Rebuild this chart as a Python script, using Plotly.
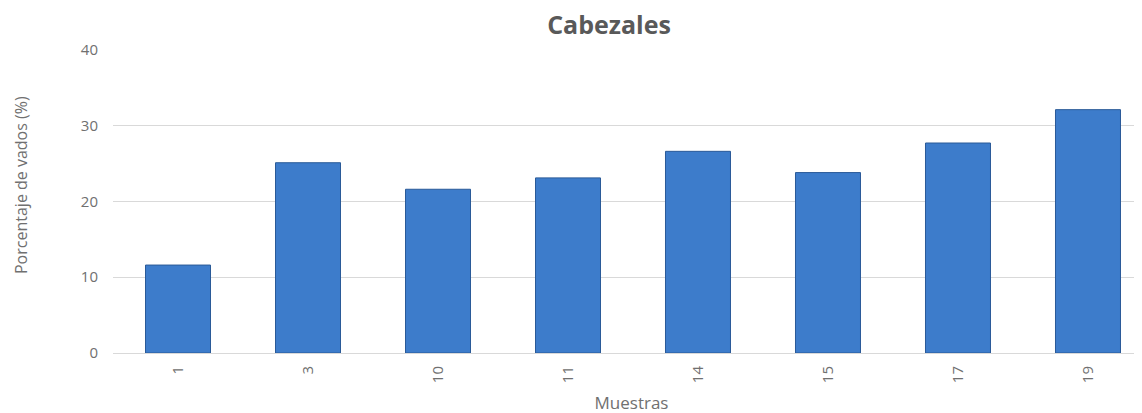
import plotly.graph_objects as go

categories = ["1", "3", "10", "11", "14", "15", "17", "19"]
values = [11.6, 25.1, 21.6, 23.1, 26.6, 23.8, 27.7, 32.1]
y_ticks = [0, 10, 20, 30, 40]

fig = go.Figure()
fig.add_trace(go.Bar(
    x=categories,
    y=values,
    width=0.5,
    marker=dict(color="#3D7CCB", line=dict(color="#2A5A98", width=1)),
))

fig.update_layout(
    width=1142,
    height=413,
    margin=dict(l=105, r=0, t=41, b=68),
    paper_bgcolor="white",
    plot_bgcolor="white",
    showlegend=False,
    font=dict(family="Open Sans, Liberation Sans, sans-serif", size=15, color="#707070"),
    title=dict(
        text="<b>Cabezales</b>",
        x=601 / 1142, xref="container", xanchor="center",
        y=1 - 17 / 413, yref="container", yanchor="middle",
        font=dict(size=25, color="#595959"),
    ),
    xaxis=dict(
        type="category",
        range=[-0.5, 7.477],
        tickangle=-90,
        showgrid=False,
        showline=False,
        ticks="",
        ticklabelstandoff=9,
        title=dict(text="Muestras", standoff=14, font=dict(size=17, color="#707070")),
        automargin=False,
    ),
    yaxis=dict(
        range=[0, 40.1],
        tickvals=y_ticks,
        showgrid=True,
        gridcolor="#d9d9d9",
        gridwidth=1,
        zeroline=True,
        zerolinecolor="#d9d9d9",
        zerolinewidth=1,
        showline=False,
        ticks="",
        ticklabelstandoff=14,
        automargin=False,
    ),
    annotations=[dict(
        text="Porcentaje de vados (%)",
        xref="paper", yref="paper",
        x=(13 - 105) / 1037, y=(345 - 177) / 304,
        xanchor="center", yanchor="middle",
        textangle=-90, showarrow=False,
        font=dict(size=16, color="#707070"),
    )],
)

fig.write_html("out.html")
